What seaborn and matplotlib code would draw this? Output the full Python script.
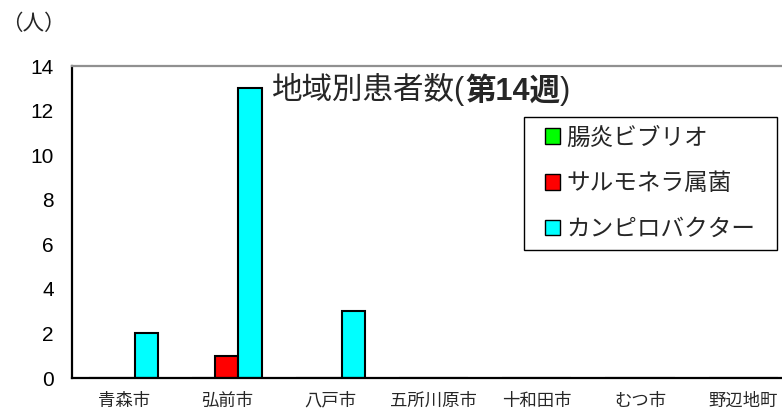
import matplotlib
matplotlib.use("Agg")
from matplotlib import pyplot as plt
from matplotlib.patches import Patch, Rectangle
import pandas as pd
import seaborn as sns

# data
cities = ["青森市", "弘前市", "八戸市", "五所川原市", "十和田市", "むつ市", "野辺地町"]
vibrio = [0, 0, 0, 0, 0, 0, 0]
salmonella = [0, 1, 0, 0, 0, 0, 0]
campylobacter = [2, 13, 3, 0, 0, 0, 0]
series_names = ["腸炎ビブリオ", "サルモネラ属菌", "カンピロバクター"]
series_colors = ["#00ff00", "#ff0000", "#00ffff"]
y_ticks = [0, 2, 4, 6, 8, 10, 12, 14]


def build_frame():
    rows = []
    for name, values in zip(series_names, [vibrio, salmonella, campylobacter]):
        for city, v in zip(cities, values):
            rows.append({"city": city, "pathogen": name, "count": v})
    return pd.DataFrame(rows)


sns.set_style("white")
plt.rcParams["font.family"] = ["Liberation Sans", "Noto Sans CJK JP"]

W, H = 782, 409
fig = plt.figure(figsize=(W / 100, H / 100), dpi=100)
# the plot area runs past the right edge of the picture, as in the reference
ax = fig.add_axes([72 / W, 31 / H, 723 / W, 312 / H])

df = build_frame()
sns.barplot(data=df, x="city", y="count", hue="pathogen", order=cities,
            hue_order=series_names, palette=series_colors, width=0.67,
            gap=0, edgecolor="black", linewidth=1.5, saturation=1,
            legend=False, ax=ax)

ax.set_xlim(-0.5, len(cities) - 0.5)
ax.set_ylim(0, 14)
ax.set_yticks(y_ticks)
ax.set_xlabel("")
ax.set_ylabel("")

ax.tick_params(axis="y", direction="in", length=6, width=1, pad=13,
               labelsize=15, colors="black")
ax.set_xticks(range(len(cities)), labels=cities, va="baseline",
              fontfamily="Noto Sans CJK JP")
ax.tick_params(axis="x", which="major", length=0, pad=20, labelsize=12.5)
ax.set_xticks([i + 0.5 for i in range(len(cities) - 1)], minor=True)
ax.tick_params(axis="x", which="minor", direction="in", length=5, width=1,
               color="black")

for side in ["left", "bottom"]:
    ax.spines[side].set_color("black")
    ax.spines[side].set_linewidth(1.6)
ax.spines["top"].set_color("#909090")
ax.spines["top"].set_linewidth(1.6)
ax.spines["right"].set_visible(False)

# title: normal part + bold part
t1 = fig.text(272 / W, 1 - 90 / H, "地域別患者数(", fontsize=22, va="center")
t2 = ax.annotate("第14週", xy=(1, 0), xycoords=t1, va="bottom",
                 fontsize=22, fontweight="bold", annotation_clip=False)
ax.annotate(")", xy=(1, 0), xycoords=t2, va="bottom", fontsize=22,
            annotation_clip=False)

fig.text(1 / W, 1 - 24 / H, "（人）", fontsize=15.5, va="center")

# legend box
fig.patches.append(Rectangle((524 / W, 1 - 250 / H), 253 / W, 133 / H,
                             transform=fig.transFigure, facecolor="white",
                             edgecolor="black", linewidth=1, zorder=3))
handles = [Patch(facecolor=c, edgecolor="black", linewidth=1, label=n)
           for n, c in zip(series_names, series_colors)]
leg = fig.legend(handles=handles, loc="center",
                 bbox_to_anchor=(650 / W, 1 - 184 / H), frameon=False,
                 fontsize=17, handlelength=0.65, handleheight=0.65,
                 handletextpad=0.25, labelspacing=1.0, borderpad=0)
leg.set_zorder(4)

fig.savefig("out.png", dpi=100)
